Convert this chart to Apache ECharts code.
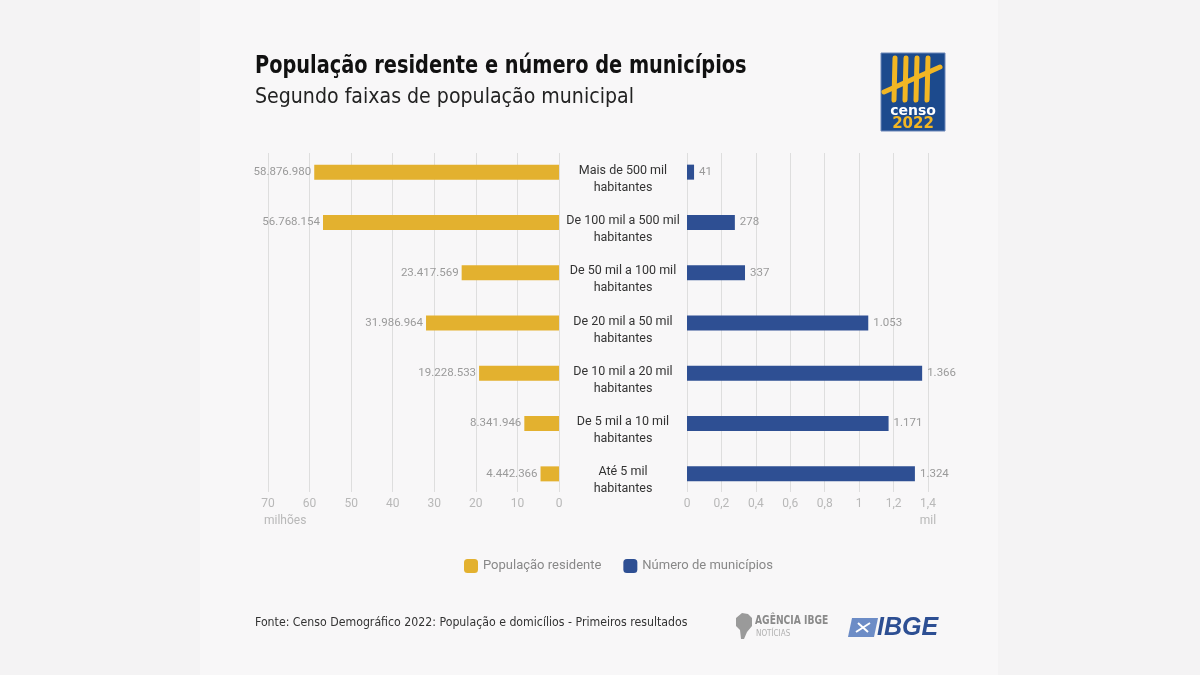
<!DOCTYPE html>
<html><head><meta charset="utf-8">
<script src="https://cdn.jsdelivr.net/npm/echarts@6/dist/echarts.min.js"></script>
<style>html,body{margin:0;padding:0;background:#f4f3f4}#c{width:1200px;height:675px}</style>
</head><body><div id="c"></div><script>
const categories = ['Mais de 500 mil\nhabitantes', 'De 100 mil a 500 mil\nhabitantes', 'De 50 mil a 100 mil\nhabitantes', 'De 20 mil a 50 mil\nhabitantes', 'De 10 mil a 20 mil\nhabitantes', 'De 5 mil a 10 mil\nhabitantes', 'Até 5 mil\nhabitantes'];
const populacao = [58876980, 56768154, 23417569, 31986964, 19228533, 8341946, 4442366];
const municipios = [41, 278, 337, 1053, 1366, 1171, 1324];
const popTicks = ['0', '10', '20', '30', '40', '50', '60', '70'];
const munTicks = ['0', '0,2', '0,4', '0,6', '0,8', '1', '1,2', '1,4'];
const seriesNames = ['População residente', 'Número de municípios'];

const COND = "'DejaVu Sans Condensed', 'DejaVu Sans', sans-serif";
const ROB = "Roboto, sans-serif";
const fmt = n => String(n).replace(/\B(?=(\d{3})+(?!\d))/g, '.');
const YELLOW = '#E3B12F', BLUE = '#2E4F93';

const chart = echarts.init(document.getElementById('c'));
const gridL = {left: 268, right: 1200 - 559};
const gridR = {left: 687, right: 1200 - 928};
const option = {
  backgroundColor: 'transparent',
  animation: false,
  grid: [
    Object.assign({top: 147, bottom: 675 - 499}, gridL),
    Object.assign({top: 147, bottom: 675 - 499}, gridR),
    Object.assign({top: 153, bottom: 675 - 492}, gridL),
    Object.assign({top: 153, bottom: 675 - 492}, gridR),
    Object.assign({top: 154, bottom: 675 - 506}, gridR)
  ],
  xAxis: [
    {gridIndex: 0, type: 'value', min: 0, max: 70e6, interval: 10e6, inverse: true, show: false},
    {gridIndex: 1, type: 'value', min: 0, max: 1400, interval: 200, show: false},
    {gridIndex: 2, type: 'value', min: 0, max: 70e6, interval: 10e6, inverse: true,
      axisLine: {show: false}, axisTick: {show: false},
      axisLabel: {formatter: (v, i) => popTicks[i], color: '#b8b8b8', fontSize: 12, fontFamily: ROB, margin: 6},
      splitLine: {show: true, lineStyle: {color: '#dedede', width: 1}}},
    {gridIndex: 3, type: 'value', min: 0, max: 1400, interval: 200,
      axisLine: {show: false}, axisTick: {show: false},
      axisLabel: {formatter: (v, i) => munTicks[i], color: '#b8b8b8', fontSize: 12, fontFamily: ROB, margin: 6},
      splitLine: {show: true, lineStyle: {color: '#dedede', width: 1}}},
    {gridIndex: 4, type: 'value', min: 0, max: 1400, show: false}
  ],
  yAxis: [
    {gridIndex: 0, type: 'category', data: categories, inverse: true, show: false},
    {gridIndex: 1, type: 'category', data: categories, inverse: true, show: false},
    {gridIndex: 2, type: 'value', show: false},
    {gridIndex: 3, type: 'value', show: false},
    {gridIndex: 4, type: 'category', data: categories, inverse: true,
      axisLine: {show: false}, axisTick: {show: false}, splitLine: {show: false},
      axisLabel: {align: 'center', margin: 64, color: '#333', fontSize: 12.5, lineHeight: 17, fontFamily: ROB}}
  ],
  legend: {
    data: seriesNames, left: 459, top: 554, itemWidth: 14, itemHeight: 14, itemGap: 22,
    icon: 'roundRect',
    textStyle: {color: '#888', fontSize: 13, fontFamily: ROB}
  },
  series: [
    {type: 'bar', name: seriesNames[0], xAxisIndex: 0, yAxisIndex: 0, data: populacao, barWidth: 15,
      itemStyle: {color: YELLOW},
      label: {show: true, position: 'left', distance: 3, formatter: p => fmt(p.value), color: '#9a9a9a', fontSize: 11.5, fontFamily: ROB}},
    {type: 'bar', name: seriesNames[1], xAxisIndex: 1, yAxisIndex: 1, data: municipios, barWidth: 15,
      itemStyle: {color: BLUE},
      label: {show: true, position: 'right', distance: 5, formatter: p => fmt(p.value), color: '#9a9a9a', fontSize: 11.5, fontFamily: ROB}}
  ],
  graphic: [
    {type: 'rect', z: -100, silent: true, shape: {x: 200, y: 0, width: 798, height: 675}, style: {fill: '#f8f7f8'}},
    {type: 'text', x: 255, y: 66, scaleX: 0.86, style: {text: 'População residente e número de municípios', fill: '#111', font: "bold 25px " + COND, textVerticalAlign: 'middle'}},
    {type: 'text', x: 255, y: 97, scaleX: 0.96, style: {text: 'Segundo faixas de população municipal', fill: '#222', font: "22px " + COND, textVerticalAlign: 'middle'}},
    {type: 'text', x: 264, y: 521, style: {text: 'milhões', fill: '#b8b8b8', font: "12px " + ROB, textVerticalAlign: 'middle'}},
    {type: 'text', x: 928, y: 521, style: {text: 'mil', fill: '#b8b8b8', font: "12px " + ROB, textVerticalAlign: 'middle', textAlign: 'center'}},
    {type: 'text', x: 255, y: 623, scaleX: 0.94, style: {text: 'Fonte: Censo Demográfico 2022: População e domicílios - Primeiros resultados', fill: '#333', font: "13px " + COND, textVerticalAlign: 'middle'}},
    // Censo logo
    {type: 'rect', shape: {x: 881, y: 53, width: 64, height: 78}, style: {fill: '#1c4a8d', stroke: '#6a86b8', lineWidth: 1}},
    {type: 'polyline', shape: {points: [[895, 58], [894, 100]]}, style: {stroke: '#f2b624', lineWidth: 5, lineCap: 'round'}},
    {type: 'polyline', shape: {points: [[906, 58], [905, 100]]}, style: {stroke: '#f2b624', lineWidth: 5, lineCap: 'round'}},
    {type: 'polyline', shape: {points: [[917, 58], [916, 100]]}, style: {stroke: '#f2b624', lineWidth: 5, lineCap: 'round'}},
    {type: 'polyline', shape: {points: [[928, 58], [927, 100]]}, style: {stroke: '#f2b624', lineWidth: 5, lineCap: 'round'}},
    {type: 'polyline', shape: {points: [[884, 92], [940, 67]]}, style: {stroke: '#f2b624', lineWidth: 5, lineCap: 'round'}},
    {type: 'text', x: 913, y: 111, style: {text: 'censo', fill: '#fff', font: "bold 14px 'DejaVu Sans'", textAlign: 'center', textVerticalAlign: 'middle'}},
    {type: 'text', x: 913, y: 124, style: {text: '2022', fill: '#f2b624', font: "bold 15px 'DejaVu Sans'", textAlign: 'center', textVerticalAlign: 'middle'}},
    // Agencia IBGE
    {type: 'polygon', shape: {points: [[736, 618], [742, 613], [748, 614], [752, 618], [752, 626], [747, 632], [744, 639], [741, 639], [740, 630], [736, 626]]}, style: {fill: '#9a9a9a'}},
    {type: 'text', x: 755, y: 621, scaleX: 0.85, style: {text: 'AGÊNCIA IBGE', fill: '#8a8a8a', font: "bold 12px " + COND, textVerticalAlign: 'middle'}},
    {type: 'text', x: 756, y: 634, style: {text: 'NOTÍCIAS', fill: '#b0b0b0', font: "8px " + COND, textVerticalAlign: 'middle'}},
    // IBGE
    {type: 'polygon', shape: {points: [[852, 618], [878, 618], [874, 637], [848, 637]]}, style: {fill: '#6c8cc6'}},
    {type: 'polyline', shape: {points: [[856, 632], [870, 623]]}, style: {stroke: '#fff', lineWidth: 2}},
    {type: 'polyline', shape: {points: [[858, 623], [868, 632]]}, style: {stroke: '#fff', lineWidth: 2}},
    {type: 'text', x: 877, y: 628, style: {text: 'IBGE', fill: '#2d4f93', font: "italic bold 25px 'Liberation Sans'", textVerticalAlign: 'middle'}}
  ]
};
chart.setOption(option);
</script></body></html>
